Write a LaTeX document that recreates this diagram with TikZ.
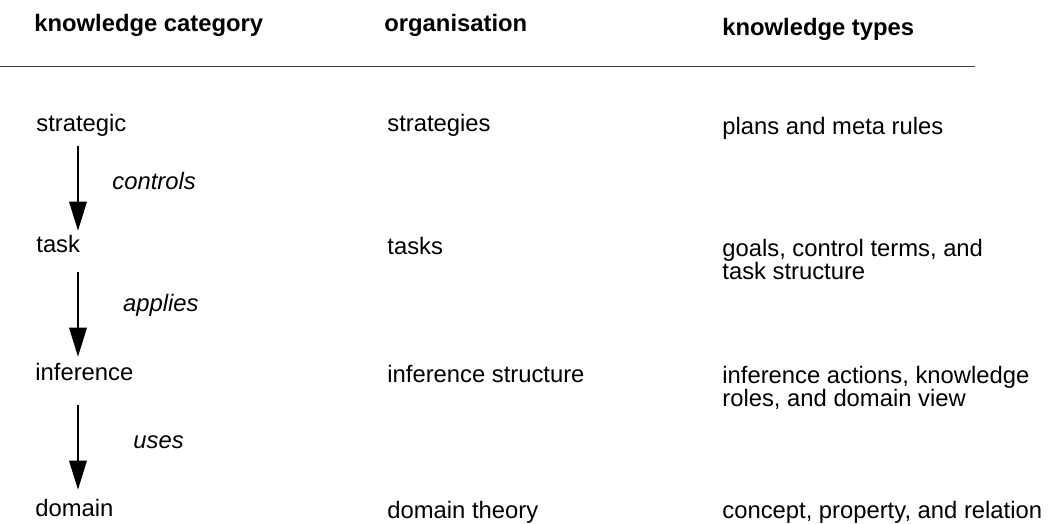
\documentclass[tikz,border=0pt]{standalone}
\usepackage{fontspec}
\setmainfont{Liberation Sans}
\usepackage{tikz}
\usetikzlibrary{arrows.meta}

\begin{document}
\begin{tikzpicture}[x=0.5pt, y=-0.5pt,
    every node/.style={inner sep=0, font=\fontsize{11.9}{11.65}\selectfont},
    head/.style={anchor=base west, font=\fontsize{11.9}{11.65}\selectfont\bfseries},
    cat/.style={anchor=base west, text height=8.5pt, text depth=2.5pt},
    entry/.style={anchor=base west, align=left},
    rel/.style={anchor=base west, font=\fontsize{11.9}{11.65}\selectfont\itshape},
    flow/.style={line width=0.65pt, -{Triangle[width=8.85pt, length=14.5pt]}}]

    \useasboundingbox (0, 0) rectangle (1051, 524);

    % Headings
    \node[head] (hcat) at (34, 31.7) {knowledge category};
    \node[head] (horg) at (384, 31.7) {organisation};
    \node[head] (htyp) at (722, 36) {knowledge types};
    \draw[line width=0.7pt, black!75] (0, 66.7) -- (975, 66.7);

    % Categories
    \node[cat] (strategic) at (36, 131.7) {strategic};
    \node[cat] (task) at (36, 252.7) {task};
    \node[cat] (inference) at (35, 380.7) {inference};
    \node[cat] (domain) at (35, 516.7) {domain};

    % Organisation
    \node[entry] (strategies) at (387, 132) {strategies};
    \node[entry] (tasks) at (387, 254.5) {tasks};
    \node[entry] (infstruct) at (387, 382) {inference structure};
    \node[entry] (theory) at (387, 518.5) {domain theory};

    % Knowledge types (base is the last line)
    \node[entry] (plans) at (722, 135) {plans and meta rules};
    \node[entry] (goals) at (722, 279.3) {goals, control terms, and\\task structure};
    \node[entry] (actions) at (722, 406.7) {inference actions, knowledge\\roles, and domain view};
    \node[entry] (concepts) at (722, 518.3) {concept, property, and relation};

    % Relations
    \coordinate (axis) at (78, 0);
    \draw[flow, shorten <=4.65pt, shorten >=2.35pt] (strategic.south -| axis) -- (task.north -| axis);
    \draw[flow, shorten <=7.15pt, shorten >=3.35pt] (task.south -| axis) -- (inference.north -| axis);
    \draw[flow, shorten <=9.65pt, shorten >=4.85pt] (inference.south -| axis) -- (domain.north -| axis);
    \node[rel] (controls) at (112, 189.3) {controls};
    \node[rel] (applies) at (122.7, 311.7) {applies};
    \node[rel] (uses) at (133, 448) {uses};

\end{tikzpicture}
\end{document}
